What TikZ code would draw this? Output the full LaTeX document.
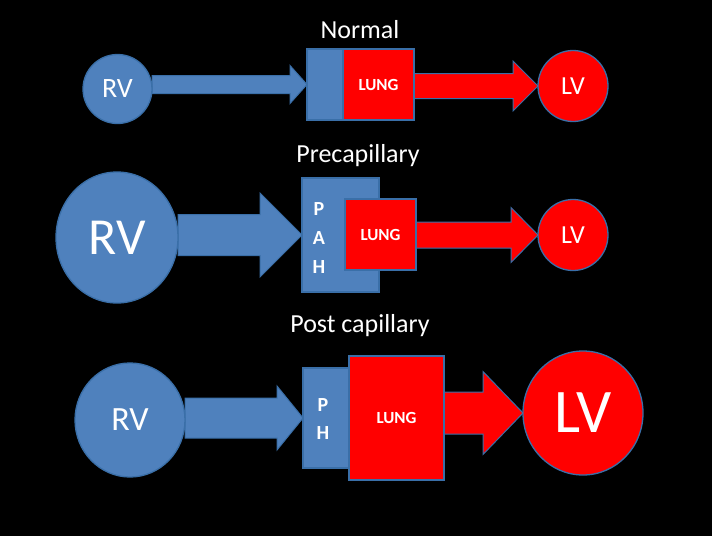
\documentclass[tikz,border=0pt]{standalone}
\usepackage{fontspec}
\setmainfont{Carlito}
\usetikzlibrary{calc,shapes.geometric}
\definecolor{obl}{HTML}{4F81BD}
\definecolor{oln}{HTML}{3A6FA8}
\definecolor{rd}{HTML}{FF0000}
\pgfdeclarelayer{bg}
\pgfsetlayers{bg,main}
% #1 style, #2 start node anchor, #3 tip node anchor, #4 shaft half, #5 head half, #6 head length
\newcommand{\blockarrow}[6]{%
  \filldraw[#1] ($(#2 |- #3)+(0,#4)$) -- ($(#3)+(-#6,#4)$) -- ($(#3)+(-#6,#5)$) -- (#3)
    -- ($(#3)+(-#6,-#5)$) -- ($(#3)+(-#6,-#4)$) -- ($(#2 |- #3)+(0,-#4)$) -- cycle;}
\begin{document}
\begin{tikzpicture}[x=1pt,y=-1pt,
  every node/.style={inner sep=0pt, outer sep=0pt, text=white},
  titletxt/.style={font=\fontsize{26}{30}\selectfont},
  shapeline/.style={draw=oln, line width=1.3pt},
  bluebox/.style={shapeline, fill=obl, rectangle},
  redbox/.style={shapeline, fill=rd, rectangle},
  bluecirc/.style={shapeline, fill=obl, ellipse},
  redcirc/.style={shapeline, fill=rd, ellipse},
  bluearrow/.style={draw=oln, line width=1pt, fill=obl, line join=miter},
  redarrow/.style={draw=oln, line width=1pt, fill=rd, line join=miter},
  lungtxt/.style={font=\fontsize{17}{20}\selectfont\bfseries},
  lettertxt/.style={font=\fontsize{20}{24}\selectfont\bfseries}
]
\begin{pgfonlayer}{bg}
\fill[black] (0,0) rectangle (712,536);
\end{pgfonlayer}
\useasboundingbox (0,0) rectangle (712,536);

% ---------- Row 1: Normal ----------
\node[titletxt] (t1) at (360,30) {Normal};
\node[bluecirc, minimum width=69pt, minimum height=69pt, font=\fontsize{28}{30}\selectfont] (rv1) at (117.5,89) {RV};
\node[bluebox, minimum width=36pt, minimum height=71pt] (box1) at (325,84.5) {};
\node[redbox, minimum width=71pt, minimum height=71pt, lungtxt] (lung1) at (378.5,84.5) {LUNG};
\node[redcirc, minimum width=70pt, minimum height=71pt, font=\fontsize{26}{28}\selectfont] (lv1) at (573,86) {LV};
\begin{pgfonlayer}{bg}
\blockarrow{bluearrow}{rv1.east}{box1.west}{9}{19}{17}
\blockarrow{redarrow}{lung1.east}{lv1.west}{12.5}{25}{25}
\end{pgfonlayer}

% ---------- Row 2: Precapillary ----------
\node[titletxt] (t2) at (358,156) {Precapillary};
\node[bluecirc, minimum width=122pt, minimum height=131pt, font=\fontsize{52}{56}\selectfont] (rv2) at (117,237.5) {RV};
\node[bluebox, minimum width=77pt, minimum height=114pt] (box2) at (340.5,235) {};
\node[redbox, minimum width=71pt, minimum height=71pt, lungtxt] (lung2) at (380.5,234.5) {LUNG};
\node[lettertxt] (p2) at (319,209) {P};
\node[lettertxt] (a2) at (319,238) {A};
\node[lettertxt] (h2) at (319,267) {H};
\node[redcirc, minimum width=70pt, minimum height=71pt, font=\fontsize{26}{28}\selectfont] (lv2) at (573,235) {LV};
\begin{pgfonlayer}{bg}
\blockarrow{bluearrow}{rv2.east}{box2.west}{20.5}{42}{42}
\blockarrow{redarrow}{lung2.east}{lv2.west}{13}{27.5}{27}
\end{pgfonlayer}

% ---------- Row 3: Post capillary ----------
\node[titletxt] (t3) at (360,326) {Post capillary};
\node[bluecirc, minimum width=110pt, minimum height=114pt, font=\fontsize{34}{36}\selectfont] (rv3) at (130,420) {RV};
\node[bluebox, minimum width=46pt, minimum height=100pt] (box3) at (326,418) {};
\node[redbox, minimum width=95pt, minimum height=124pt, lungtxt] (lung3) at (396.5,418) {LUNG};
\node[lettertxt] (p3) at (323,405) {P};
\node[lettertxt] (h3) at (323,433) {H};
\node[redcirc, minimum width=120pt, minimum height=124pt, font=\fontsize{62}{66}\selectfont] (lv3) at (583,413) {LV};
\begin{pgfonlayer}{bg}
\blockarrow{bluearrow}{rv3.east}{box3.west}{20}{32}{26}
\blockarrow{redarrow}{lung3.east}{lv3.west}{21}{41.5}{40}
\end{pgfonlayer}
\end{tikzpicture}
\end{document}
